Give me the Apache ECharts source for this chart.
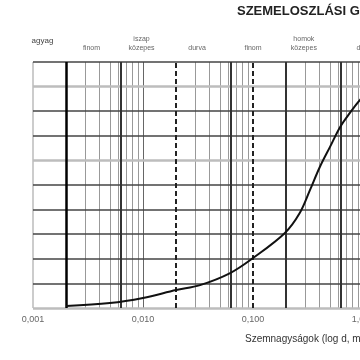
<!DOCTYPE html>
<html>
<head>
<meta charset="utf-8">
<script src="https://cdn.jsdelivr.net/npm/echarts@6/dist/echarts.min.js"></script>
<style>html,body{margin:0;padding:0;background:#fff}#c{width:360px;height:360px}</style>
</head>
<body>
<div id="c"></div>
<script>
// grain diameter (mm) and cumulative passing (%)
var grainSize = [0.002, 0.005, 0.01, 0.02, 0.033, 0.062, 0.1, 0.195, 0.266, 0.33, 0.405, 0.5, 0.62, 0.76, 0.94, 1.2, 2.0];
var passing   = [0.8,   2.0,   4.1,  7.3,  9.3,   14.2,  20.3, 30.5, 38.6, 48,   57.3,  65.4, 73.6, 79.3, 84.6, 89,  96];
// axis tick labels
var xTickValues = [0.001, 0.01, 0.1, 1, 10];
var xTickLabels = ['0,001', '0,010', '0,100', '1,000', '10,00'];
// fraction boundaries (mm)
var solidBounds = [0.002, 0.0063, 0.063, 0.2, 0.63, 2];
var dashedBounds = [0.02, 0.1];
// fraction names
var zoneTop = ['agyag', '', 'iszap', '', '', 'homok', ''];
var zoneBottom = ['', 'finom', 'közepes', 'durva', 'finom', 'közepes', 'durva'];
var zoneAnchor = [0.00122, 0.0034, 0.0097, 0.031, 0.1, 0.29, 1.05];
var yLevels = [0, 10, 20, 30, 40, 50, 60, 70, 80, 90, 100];
var lightLevels = [0, 60, 90];
var titleText = 'SZEMELOSZLÁSI GÖRBE';
var xAxisTitle = 'Szemnagyságok (log d, mm)';

var decades = [0.001, 0.01, 0.1, 1];
var minorVals = [];
decades.forEach(function (d) {
  for (var k = 1; k <= 9; k++) {
    var v = +(d * k).toPrecision(3);
    if (v === 0.001) continue;
    minorVals.push(v);
  }
});

var lines = [];
minorVals.forEach(function (v) {
  var isBound = solidBounds.concat(dashedBounds).some(function (b) { return Math.abs(b - v) / v < 0.01; });
  if (isBound) return;
  var isDec = decades.indexOf(v) >= 0;
  lines.push({ xAxis: v, lineStyle: { color: isDec ? '#666' : '#999', width: 1, type: 'solid' } });
});
lines.push({ xAxis: 0.001, lineStyle: { color: '#bbb', width: 1.5, type: 'solid' } });
yLevels.forEach(function (y) {
  var light = lightLevels.indexOf(y) >= 0;
  lines.push({ yAxis: y, lineStyle: { color: light ? '#bdbdbd' : '#444', width: light ? 2.5 : 1.5, type: 'solid' } });
});
solidBounds.forEach(function (b, i) {
  lines.push({ xAxis: b, lineStyle: { color: i === 0 ? '#000' : '#333', width: i === 0 ? 2.5 : 2, type: 'solid' } });
});
dashedBounds.forEach(function (b) {
  lines.push({ xAxis: b, lineStyle: { color: '#222', width: 2, type: [5, 3] } });
});

var chart = echarts.init(document.getElementById('c'), null, { renderer: 'canvas' });
var option = {
  animation: false,
  backgroundColor: '#fff',
  grid: { left: 33, top: 62, height: 246, width: 440, containLabel: false, outerBoundsMode: 'none' },
  xAxis: {
    type: 'log', logBase: 10, min: 0.001, max: 10,
    axisLine: { show: false }, axisTick: { show: false }, splitLine: { show: false },
    axisLabel: {
      color: '#666', fontSize: 9, margin: 7, fontFamily: 'Liberation Sans',
      formatter: function (v) {
        for (var i = 0; i < xTickValues.length; i++) if (Math.abs(xTickValues[i] - v) / v < 1e-6) return xTickLabels[i];
        return '';
      }
    }
  },
  yAxis: {
    type: 'value', min: 0, max: 100, interval: 10,
    axisLine: { show: false }, axisTick: { show: false }, axisLabel: { show: false }, splitLine: { show: false }
  },
  series: [
    {
      type: 'line', data: [], z: 1, silent: true,
      markLine: { silent: true, precision: 8, symbol: ['none', 'none'], label: { show: false }, animation: false, data: lines }
    },
    {
      type: 'line', z: 5, smooth: 0.35, showSymbol: false,
      lineStyle: { color: '#111', width: 2 },
      data: grainSize.map(function (d, i) { return [d, passing[i]]; })
    }
  ]
};
chart.setOption(option);

var g = [
  { type: 'text', left: 237, top: 5, style: { text: titleText, fill: '#222', font: 'bold 13px "Liberation Sans", Arial' } },
  { type: 'text', left: 245, top: 334, style: { text: xAxisTitle, fill: '#333', font: '10px "Liberation Sans", Arial' } }
];
zoneAnchor.forEach(function (a, i) {
  var px = chart.convertToPixel({ xAxisIndex: 0 }, a);
  if (zoneTop[i]) {
    var single = !zoneBottom[i];
    g.push({ type: 'text', x: px, y: single ? 41 : 39, style: { text: zoneTop[i], fill: single ? '#444' : '#666', font: (single ? '8px' : '7px') + ' "Liberation Sans", Arial', textAlign: 'center', textVerticalAlign: 'middle' } });
  }
  if (zoneBottom[i]) {
    g.push({ type: 'text', x: px, y: 48, style: { text: zoneBottom[i], fill: '#666', font: '7px "Liberation Sans", Arial', textAlign: 'center', textVerticalAlign: 'middle' } });
  }
});
chart.setOption({ graphic: g });
</script>
</body>
</html>
